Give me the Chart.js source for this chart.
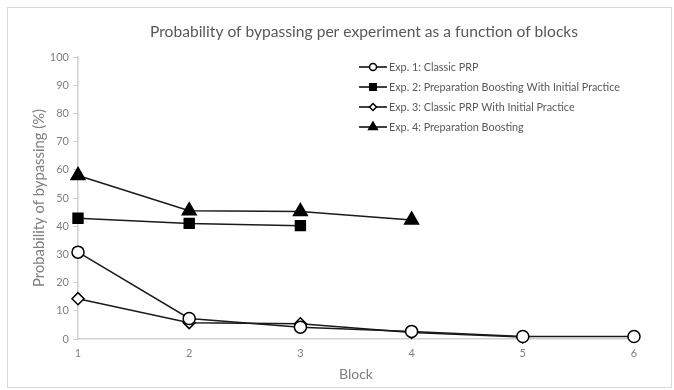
<!DOCTYPE html>
<html lang="en">
<head>
    <meta charset="UTF-8">
    <title>Probability of bypassing</title>
    <script src="https://cdn.jsdelivr.net/npm/chart.js"></script>
    <style>
        body { margin: 0; background: #fff; }
        .box { position: absolute; left: 7px; top: 7px; width: 663px; height: 379px; border: 1px solid #d9d9d9; }
        canvas { display: block; }
    </style>
</head>
<body>
    <div class="box"><canvas id="chartCanvas" width="663" height="379"></canvas></div>
    <script>
        // data
        const blocks = [1, 2, 3, 4, 5, 6];
        const exp1 = [30.8, 7.3, 4.2, 2.7, 0.9, 0.9];
        const exp2 = [42.8, 41.0, 40.2, null, null, null];
        const exp3 = [14.3, 5.8, 5.4, 2.3, 0.7, null];
        const exp4 = [58.0, 45.5, 45.2, 42.2, null, null];
        const seriesLabels = [
            'Exp. 1: Classic PRP',
            'Exp. 2: Preparation Boosting With Initial Practice',
            'Exp. 3: Classic PRP With Initial Practice',
            'Exp. 4: Preparation Boosting'
        ];
        const yTicks = [0, 10, 20, 30, 40, 50, 60, 70, 80, 90, 100];
        const chartTitle = 'Probability of bypassing per experiment as a function of blocks';

        const FONT = 'Lato, "Open Sans", sans-serif';

        function toPoints(values) {
            return blocks.map((b, i) => ({ x: b, y: values[i] })).filter(p => p.y !== null);
        }

        const styles = [
            { pointStyle: 'circle', fill: '#fff', r: 6, lr: 3.5 },
            { pointStyle: 'rect', fill: '#000', r: 7, lr: 4.5 },
            { pointStyle: 'rectRot', fill: '#fff', r: 6, lr: 3.5 },
            { pointStyle: 'triangle', fill: '#000', r: 8, lr: 5 }
        ];

        const datasets = [exp1, exp2, exp3, exp4].map((vals, i) => ({
            label: seriesLabels[i],
            data: toPoints(vals),
            borderColor: '#1a1a1a',
            borderWidth: 1.5,
            pointStyle: styles[i].pointStyle,
            pointRadius: styles[i].r,
            pointBackgroundColor: styles[i].fill,
            pointBorderColor: '#000',
            pointBorderWidth: 1.5,
            tension: 0,
            clip: false
        }));

        // title centred over the plot, legend inside the plot, like the original
        const extras = {
            id: 'extras',
            afterDraw(chart) {
                const ctx = chart.ctx;
                const area = chart.chartArea;
                ctx.save();
                ctx.fillStyle = '#595959';
                ctx.font = '15.6px ' + FONT;
                ctx.textAlign = 'center';
                ctx.textBaseline = 'middle';
                ctx.fillText(chartTitle, (area.left + area.right) / 2 + 8, 24);

                ctx.textAlign = 'left';
                ctx.font = '10.8px ' + FONT;
                seriesLabels.forEach((label, i) => {
                    const y = 59 + i * 20;
                    ctx.strokeStyle = '#000';
                    ctx.lineWidth = 1.5;
                    ctx.beginPath();
                    ctx.moveTo(351, y);
                    ctx.lineTo(379, y);
                    ctx.stroke();
                    ctx.fillStyle = styles[i].fill;
                    Chart.helpers.drawPoint(ctx, {
                        pointStyle: styles[i].pointStyle,
                        radius: styles[i].lr,
                        borderWidth: 1.5
                    }, 365, y);
                    ctx.fillStyle = '#595959';
                    ctx.fillText(label, 381, y + 0.5);
                });
                ctx.restore();
            }
        };

        new Chart(document.getElementById('chartCanvas').getContext('2d'), {
            type: 'line',
            data: { datasets: datasets },
            plugins: [extras],
            options: {
                responsive: false,
                animation: false,
                layout: { padding: { left: 0, right: 37, top: 49, bottom: 0 } },
                plugins: {
                    legend: { display: false },
                    tooltip: { enabled: false },
                    title: { display: false }
                },
                scales: {
                    x: {
                        type: 'linear',
                        min: 1,
                        max: 6,
                        afterFit(scale) { scale.height = 48; },
                        ticks: { stepSize: 1, color: '#808080', font: { family: FONT, size: 11 }, padding: 8 },
                        grid: { display: true, drawOnChartArea: false, drawTicks: false },
                        border: { color: '#d0d0d0', width: 1.5 },
                        title: {
                            display: true,
                            text: 'Block',
                            color: '#808080',
                            font: { family: FONT, size: 14 },
                            padding: { top: 2 }
                        }
                    },
                    y: {
                        min: 0,
                        max: 100,
                        afterFit(scale) { scale.width = 70; },
                        afterBuildTicks(scale) { scale.ticks = yTicks.map(v => ({ value: v })); },
                        ticks: { color: '#808080', font: { family: FONT, size: 11 }, padding: 4 },
                        grid: { display: true, drawOnChartArea: false, tickLength: 5, color: '#d0d0d0' },
                        border: { color: '#d0d0d0', width: 1.5 },
                        title: {
                            display: true,
                            text: 'Probability of bypassing (%)',
                            color: '#808080',
                            font: { family: FONT, size: 14.8 },
                            padding: { top: 22, bottom: 4 }
                        }
                    }
                }
            }
        });
    </script>
</body>
</html>
